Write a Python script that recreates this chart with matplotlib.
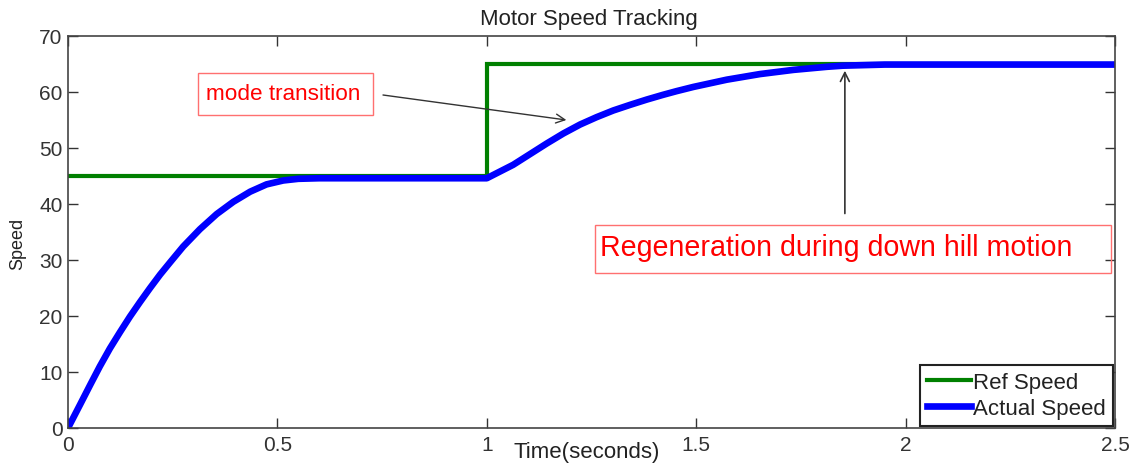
import matplotlib
matplotlib.use("Agg")
import matplotlib.pyplot as plt
from matplotlib.patches import Rectangle

plt.rcParams['font.family'] = ['Liberation Sans', 'DejaVu Sans']

# ---- data ----
t_ref = [0.0, 1.0, 1.0, 2.5]
v_ref = [45, 45, 65, 65]

t_act = [0.0, 0.029, 0.053, 0.076, 0.100, 0.124, 0.148, 0.172, 0.196,
         0.220, 0.244, 0.275, 0.315, 0.355, 0.395, 0.435, 0.474, 0.514, 0.550,
         0.600, 1.000, 1.063, 1.103, 1.143, 1.183, 1.223, 1.262, 1.302, 1.342,
         1.382, 1.421, 1.453, 1.493, 1.573, 1.652, 1.732, 1.812, 1.850, 1.950,
         2.500]
v_act = [0.0, 4.2, 7.7, 11.0, 14.2, 17.1, 19.9, 22.5, 25.0,
         27.4, 29.6, 32.4, 35.5, 38.2, 40.4, 42.2, 43.5, 44.2, 44.5,
         44.6, 44.6, 47.0, 48.9, 50.8, 52.6, 54.2, 55.5, 56.7, 57.7,
         58.65, 59.5, 60.15, 60.9, 62.2, 63.2, 63.95, 64.5, 64.7, 64.9,
         64.9]

x_ticks = [0, 0.5, 1, 1.5, 2, 2.5]
x_tick_labels = ["0", "0.5", "1", "1.5", "2", "2.5"]
y_ticks = [0, 10, 20, 30, 40, 50, 60, 70]

W, H = 1135, 464
fig = plt.figure(figsize=(W / 100, H / 100), dpi=100)
L, R, T, B = 68, 1115, 37, 429
ax = fig.add_axes([L / W, 1 - B / H, (R - L) / W, (B - T) / H])

def fx(px):
    return px / W

def fy(py):
    return 1 - py / H

ax.plot(t_ref, v_ref, color='#008000', lw=3.0, label='Ref Speed', solid_joinstyle='miter')
ax.plot(t_act, v_act, color='#0000ff', lw=4.8, label='Actual Speed',
        solid_joinstyle='round')

ax.set_xlim(0, 2.5)
ax.set_ylim(0, 70)
ax.set_xticks(x_ticks)
ax.set_xticklabels(x_tick_labels)
ax.set_yticks(y_ticks)
ax.tick_params(direction='in', length=7, width=1, top=True, right=True,
               labelsize=15, colors='#333333')
ax.tick_params(axis='x', pad=5)
ax.tick_params(axis='y', pad=4)
for sp in ax.spines.values():
    sp.set_color('#444444')
    sp.set_linewidth(1.2)

fig.text(fx(589), fy(19), 'Motor Speed Tracking', ha='center', va='center',
         fontsize=16, color='#222222')
fig.text(fx(587), fy(453), 'Time(seconds)', ha='center', va='center',
         fontsize=16, color='#222222')
fig.text(fx(18), fy(244), 'Speed', ha='center', va='center', rotation=90,
         fontsize=13, color='#222222')

leg = ax.legend(loc='lower right', bbox_to_anchor=(1.0, 0.0), borderaxespad=0.1,
                fontsize=16, handlelength=2.0, handletextpad=0.1,
                labelspacing=0.25, borderpad=0.3, fancybox=False, framealpha=1)
leg.get_frame().set_edgecolor('#222222')
leg.get_frame().set_linewidth(1.5)
for txt in leg.get_texts():
    txt.set_color('#222222')

# text boxes
fig.add_artist(Rectangle((fx(198), fy(116)), fx(373) - fx(198), fy(74) - fy(116),
                         transform=fig.transFigure, fill=False,
                         edgecolor='#ff7070', lw=1.0))
fig.text(fx(206), fy(95), 'mode transition', ha='left', va='center',
         fontsize=16.2, color='#ff0000')

fig.add_artist(Rectangle((fx(595), fy(274)), fx(1111) - fx(595), fy(226) - fy(274),
                         transform=fig.transFigure, fill=False,
                         edgecolor='#ff7070', lw=1.0))
fig.text(fx(600), fy(248), 'Regeneration during down hill motion', ha='left',
         va='center', fontsize=20.6, color='#ff0000')

# arrows
ax.annotate('', xy=(1.19, 55.0), xycoords='data',
            xytext=(fx(383), fy(96)), textcoords='figure fraction',
            arrowprops=dict(arrowstyle='->', color='#333333', lw=1.0,
                            mutation_scale=16, shrinkA=0, shrinkB=0))
ax.annotate('', xy=(1.855, 63.8), xycoords='data',
            xytext=(1.855, 38.3), textcoords='data',
            arrowprops=dict(arrowstyle='->', color='#333333', lw=1.2,
                            mutation_scale=16, shrinkA=0, shrinkB=0))

fig.savefig('out.png', dpi=100)
